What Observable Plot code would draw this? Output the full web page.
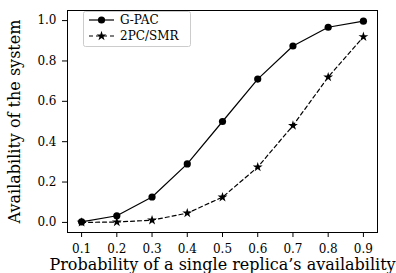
<!DOCTYPE html>
<html><head><meta charset="utf-8">
<script src="https://cdn.jsdelivr.net/npm/d3@7"></script>
<script src="https://cdn.jsdelivr.net/npm/@observablehq/plot@0.6"></script>
<style>body{margin:0;background:#fff} svg{display:block}</style>
</head><body><div id="chart"></div>
<script>
const probs = [0.1, 0.2, 0.3, 0.4, 0.5, 0.6, 0.7, 0.8, 0.9];
const gpac = [0.003, 0.033, 0.126, 0.29, 0.5, 0.71, 0.874, 0.967, 0.997];
const smr = [0.0, 0.002, 0.011, 0.046, 0.125, 0.274, 0.48, 0.72, 0.92];
const seriesNames = ["G-PAC", "2PC/SMR"];
const xTicks = [0.1, 0.2, 0.3, 0.4, 0.5, 0.6, 0.7, 0.8, 0.9];
const yTicks = [0.0, 0.2, 0.4, 0.6, 0.8, 1.0];
const xLabel = "Probability of a single replica’s availability";
const yLabel = "Availability of the system";

const dA = probs.map((p, i) => ({p, v: gpac[i], s: seriesNames[0]}));
const dB = probs.map((p, i) => ({p, v: smr[i], s: seriesNames[1]}));
const font = "DejaVu Serif";

const chart = Plot.plot({
  width: 396, height: 273,
  marginLeft: 67, marginRight: 19, marginTop: 10, marginBottom: 41,
  style: {fontFamily: font, fontSize: "12px", background: "white", color: "black"},
  x: {domain: [0.06, 0.94]},
  y: {domain: [-0.05, 1.05]},
  marks: [
    Plot.axisX({ticks: xTicks, tickFormat: d3.format(".1f"), tickSize: 5, tickPadding: 7, label: null, fontSize: 12}),
    Plot.axisY({ticks: yTicks, tickFormat: d3.format(".1f"), tickSize: 5, tickPadding: 6, label: null, fontSize: 12}),
    Plot.line(dA, {x: "p", y: "v", stroke: "black", strokeWidth: 1.2}),
    Plot.line(dB, {x: "p", y: "v", stroke: "black", strokeWidth: 1.2, strokeDasharray: "4,3"}),
    Plot.dot(dA, {x: "p", y: "v", r: 3.6, fill: "black", stroke: "none"}),
    Plot.dot(dB, {x: "p", y: "v", symbol: "star", r: 3.1, fill: "black", stroke: "none"}),
    Plot.frame({stroke: "black", strokeWidth: 1}),
    Plot.text([xLabel], {frameAnchor: "bottom", text: d => d, dy: 32, lineAnchor: "middle", textAnchor: "middle", fontSize: 16, fill: "black"}),
    Plot.text([yLabel], {frameAnchor: "left", text: d => d, rotate: -90, dx: -53, lineAnchor: "middle", textAnchor: "middle", fontSize: 16, fill: "black"})
  ]
});
document.getElementById("chart").appendChild(chart);

// legend
const svg = d3.select(chart);
const lg = svg.append("g");
lg.append("rect").attr("x", 83.5).attr("y", 11.5).attr("width", 107).attr("height", 35)
  .attr("fill", "white").attr("stroke", "#cccccc").attr("rx", 2);
const rows = [{name: seriesNames[0], dash: null, sym: d3.symbolCircle, r: 3.6}, {name: seriesNames[1], dash: "4,3", sym: d3.symbolStar, r: 3.1}];
rows.forEach((r, i) => {
  const y = 20 + i * 16;
  lg.append("line").attr("x1", 89).attr("x2", 114).attr("y1", y).attr("y2", y)
    .attr("stroke", "black").attr("stroke-width", 1.2).attr("stroke-dasharray", r.dash);
  lg.append("path").attr("d", d3.symbol(r.sym, Math.PI * r.r * r.r)()).attr("transform", `translate(101.5,${y})`).attr("fill", "black");
  lg.append("text").attr("x", 120).attr("y", y).attr("dy", "0.35em").attr("font-size", 12)
    .attr("text-anchor", "start")
    .attr("font-family", font).attr("fill", "black").text(r.name);
});
</script></body></html>
